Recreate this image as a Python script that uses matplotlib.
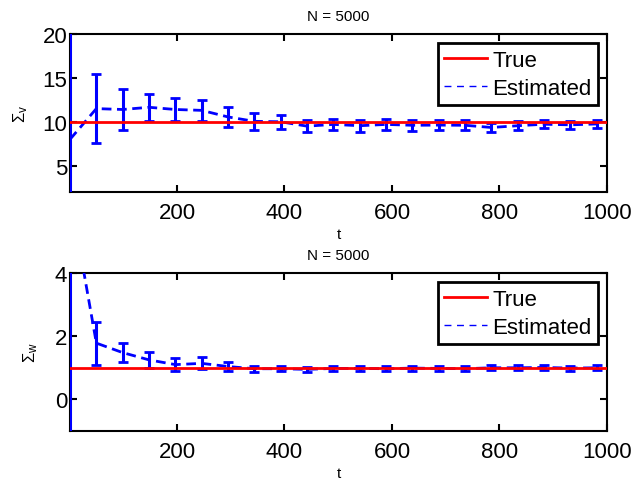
import matplotlib
matplotlib.use("Agg")
import matplotlib.pyplot as plt
from matplotlib.lines import Line2D

plt.rcParams['font.family'] = ['Liberation Sans', 'DejaVu Sans']
plt.rcParams['mathtext.fontset'] = 'custom'
plt.rcParams['mathtext.rm'] = 'Liberation Sans'
plt.rcParams['mathtext.it'] = 'Liberation Sans:italic'

# data
t = [1, 50, 99, 148, 197, 246, 295, 344, 393, 442, 491, 540, 589, 638,
     687, 736, 785, 834, 883, 932, 981]
true_v = 10.0
true_w = 1.0
est_v = [8.0, 11.5, 11.4, 11.65, 11.4, 11.3, 10.55, 10.05, 10.0, 9.5, 9.7,
         9.55, 9.7, 9.6, 9.62, 9.6, 9.35, 9.55, 9.72, 9.65, 9.75]
err_v = [40.0, 3.9, 2.3, 1.55, 1.3, 1.22, 1.1, 0.95, 0.8, 0.68, 0.66,
         0.68, 0.65, 0.62, 0.58, 0.55, 0.52, 0.5, 0.48, 0.48, 0.47]
est_w = [6.5, 1.78, 1.48, 1.25, 1.1, 1.14, 1.04, 0.97, 0.97, 0.95, 0.98,
         0.98, 0.97, 0.99, 0.98, 0.97, 1.0, 1.0, 1.01, 0.99, 1.0]
err_w = [10.0, 0.68, 0.3, 0.26, 0.2, 0.19, 0.14, 0.09, 0.08, 0.08, 0.08,
         0.08, 0.08, 0.08, 0.08, 0.08, 0.08, 0.08, 0.07, 0.08, 0.08]
xticks = [200, 400, 600, 800, 1000]
yticks_v = [5, 10, 15, 20]
yticks_w = [0, 2, 4]

fig = plt.figure(figsize=(6.32, 4.81), dpi=100)
ax1 = fig.add_axes([0.1108, 0.5988, 0.8496, 0.3284])
ax2 = fig.add_axes([0.1108, 0.1019, 0.8496, 0.3285])

def draw(ax, est, err, true, ylim, yticks, ylab, lab_x):
    ax.errorbar(t, est, yerr=err, color=(0, 0, 1), lw=2, ls=(0, (3.5, 2)),
                capsize=3.6, capthick=2, elinewidth=2.2, zorder=2.6)
    ax.axhline(true, color=(1, 0, 0), lw=2, zorder=2.7)
    ax.set_xlim(1, 1000)
    ax.set_ylim(*ylim)
    ax.set_xticks(xticks)
    ax.set_yticks(yticks)
    ax.tick_params(direction='in', length=5, width=1.5, top=True, right=True,
                   labelsize=16)
    ax.tick_params(axis='x', pad=7)
    ax.tick_params(axis='y', pad=2)
    for s in ax.spines.values():
        s.set_linewidth(1.5)
    ax.set_title('N = 5000', fontsize=11, pad=10)
    ax.set_xlabel('t', fontsize=11, labelpad=3)
    ax.set_ylabel(ylab, fontsize=12)
    ax.yaxis.set_label_coords(lab_x, 0.5)
    handles = [Line2D([], [], color=(1, 0, 0), lw=2),
               Line2D([], [], color=(0, 0, 1), lw=1, ls=(0, (5, 4)))]
    leg = ax.legend(handles, ['True', 'Estimated'], loc='upper right',
                    fontsize=16, fancybox=False, framealpha=1,
                    edgecolor='black', handlelength=1.9, handletextpad=0.25,
                    borderpad=0.3, labelspacing=0.32, borderaxespad=0.4)
    leg.get_frame().set_linewidth(2)
    leg.set_zorder(5)

draw(ax1, est_v, err_v, true_v, (2, 20), yticks_v, r'$\Sigma_{\mathrm{v}}$', -0.075)
draw(ax2, est_w, err_w, true_w, (-1, 4), yticks_w, r'$\Sigma_{\mathrm{w}}$', -0.055)

fig.savefig('out.png', dpi=100)
